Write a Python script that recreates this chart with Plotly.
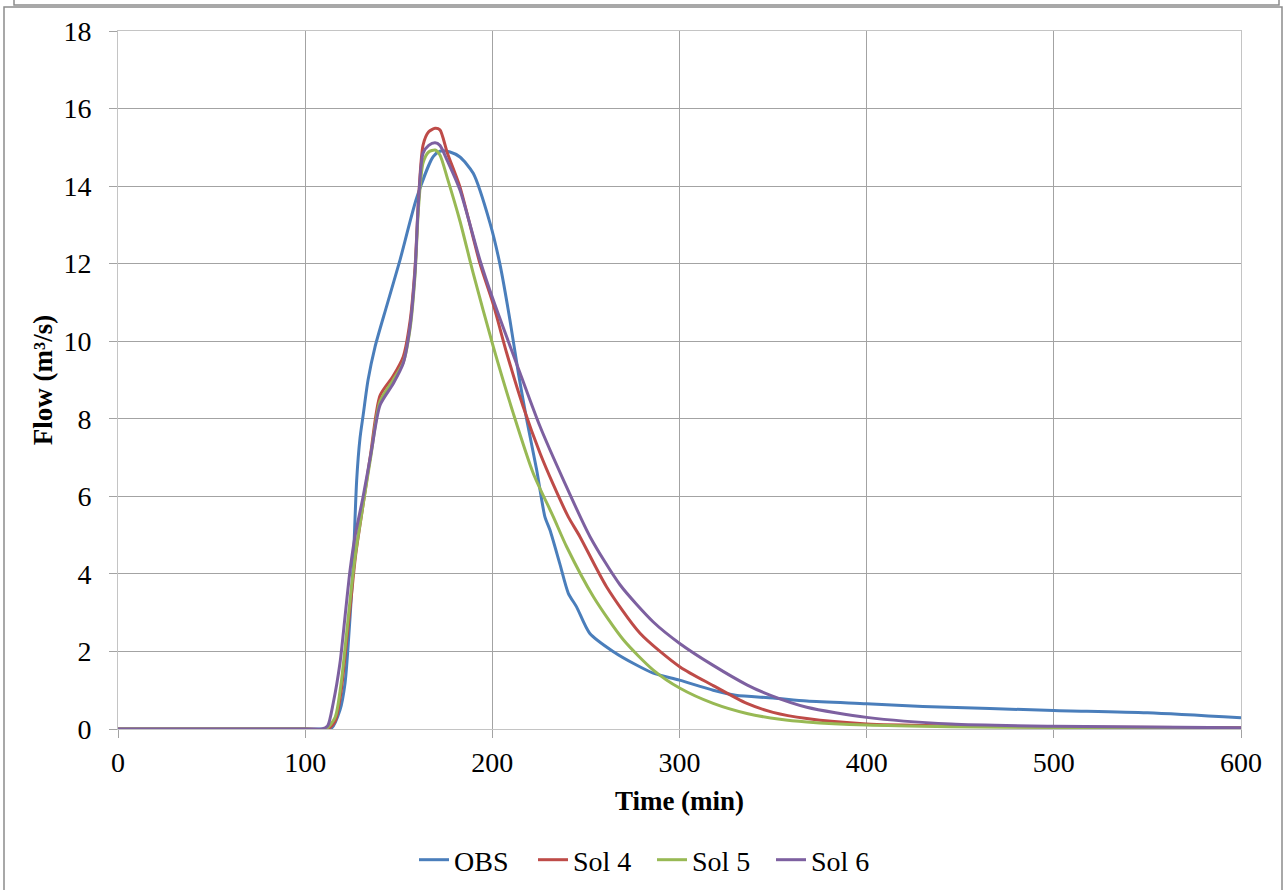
import plotly.graph_objects as go

# ---------------- data ----------------
obs_t = [0, 100, 110, 114, 118.6, 121.3, 124, 125.7, 127.5, 129.3, 131, 133.6, 137.3, 143.5,
         150.7, 159.6, 168.4, 172, 177.4, 182.7, 189.8, 198.8, 204, 209.4, 213.9, 218.4, 223.7,
         228.1, 230.8, 236, 240.6, 245, 252, 264.5, 277, 286, 300, 318, 330, 350, 368, 400,
         430, 500, 550, 600]
obs_v = [0, 0, 0, 0.02, 0.49, 1.18, 2.9, 4.28, 6.4, 7.5, 8.1, 9.0, 9.85, 10.9,
         12.1, 13.7, 14.76, 14.9, 14.88, 14.75, 14.33, 13.04, 12.0, 10.55, 9.18, 7.97, 6.68,
         5.47, 5.13, 4.27, 3.5, 3.15, 2.47, 2.0, 1.65, 1.44, 1.26, 1.0, 0.87, 0.8, 0.72, 0.65,
         0.58, 0.48, 0.42, 0.29]

sol4_t = [0, 100, 112, 116, 119, 122, 124.5, 127, 131, 135, 140, 147, 152.4, 156, 158.7, 160.5,
          163, 166, 169.4, 172, 176, 182.7, 193.4, 200.5, 207.7, 216.5, 225.5, 232.6, 240.6,
          246.8, 261, 278.9, 300.3, 318, 336, 350, 368, 400, 445, 500, 600]
sol4_v = [0, 0, 0, 0.2, 0.9, 2.2, 3.35, 4.5, 5.8, 7.1, 8.6, 9.1, 9.6, 10.5, 11.9, 13.6,
          15.06, 15.4, 15.49, 15.45, 14.85, 13.98, 12.0, 10.95, 9.69, 8.31, 7.11, 6.3, 5.47,
          4.96, 3.67, 2.47, 1.6, 1.12, 0.66, 0.43, 0.27, 0.13, 0.08, 0.05, 0.03]

sol5_t = [0, 100, 111, 116, 119, 122, 124.5, 127, 131, 135, 140, 147, 152.4, 156, 158.7, 160.5,
          163, 166, 169.4, 172, 176, 182.7, 189.8, 200.5, 211.2, 221.9, 232.6, 239.7, 254, 270,
          286, 300.3, 318, 336, 353.7, 368, 400, 445, 500, 600]
sol5_v = [0, 0, 0, 0.3, 1.1, 2.4, 3.55, 4.55, 5.8, 7.0, 8.45, 9.0, 9.45, 10.3, 11.7, 13.4,
          14.6, 14.88, 14.93, 14.8, 14.2, 13.1, 11.75, 9.86, 8.14, 6.59, 5.47, 4.7, 3.41, 2.3,
          1.52, 1.05, 0.66, 0.4, 0.25, 0.18, 0.1, 0.06, 0.04, 0.02]

sol6_t = [0, 100, 109, 112, 115, 118.6, 121.3, 124, 126.6, 131, 135.5, 140, 147, 152.4, 156,
          158.7, 160.5, 163, 166, 169.4, 172, 176, 182.7, 193.4, 200.5, 214.8, 225.5, 238,
          252.2, 268.2, 286, 300.3, 318, 336, 349, 368, 400, 445, 500, 600]
sol6_v = [0, 0, 0, 0.08, 0.67, 1.7, 2.9, 4.1, 4.96, 6.0, 7.2, 8.35, 8.9, 9.43, 10.37,
          11.8, 13.55, 14.85, 15.05, 15.12, 15.05, 14.65, 13.9, 12.09, 11.06, 9.18, 7.8, 6.42,
          4.96, 3.72, 2.76, 2.2, 1.64, 1.14, 0.86, 0.56, 0.3, 0.13, 0.07, 0.03]

series_names = ["OBS", "Sol 4", "Sol 5", "Sol 6"]
series_colors = ["#4A7EBB", "#BE4B48", "#98B954", "#7D60A0"]

x_ticks = [0, 100, 200, 300, 400, 500, 600]
y_ticks = [0, 2, 4, 6, 8, 10, 12, 14, 16, 18]

# ---------------- figure ----------------
W, H = 1286, 890
L, R, T, B = 118, 45, 31, 161
PW, PH = W - L - R, H - T - B

def px(x):
    return (x - L) / PW

def py(y):
    return (H - B - y) / PH

FONT = "Liberation Serif, Times New Roman, serif"

fig = go.Figure()
for (t, v), name, col in zip([(obs_t, obs_v), (sol4_t, sol4_v), (sol5_t, sol5_v), (sol6_t, sol6_v)],
                             series_names, series_colors):
    fig.add_trace(go.Scatter(x=t, y=v, mode="lines", name=name,
                             line=dict(color=col, width=3, shape="spline", smoothing=0.7)))

axis_common = dict(
    showgrid=True, gridcolor="#a3a3a3", gridwidth=1,
    showline=True, linecolor="#c4c4c4", linewidth=1, mirror=True,
    ticks="outside", ticklen=8, tickcolor="#a3a3a3",
    tickfont=dict(family=FONT, size=28, color="#000"),
    zeroline=False, automargin=False,
)

fig.update_layout(
    width=W, height=H,
    margin=dict(l=L, r=R, t=T, b=B, autoexpand=False),
    paper_bgcolor="white", plot_bgcolor="white",
    font=dict(family=FONT, color="#000"),
    xaxis=dict(range=[0, 600], tickvals=x_ticks, ticklabelstandoff=0,
               title=dict(text="<b>Time (min)</b>", font=dict(family=FONT, size=27), standoff=14),
               **axis_common),
    yaxis=dict(range=[0, 18], tickvals=y_ticks, ticklabelstandoff=12,
               title=dict(text="<b>Flow (m³/s)</b>", font=dict(family=FONT, size=27), standoff=2),
               **axis_common),
    legend=dict(orientation="h", x=px(652), xanchor="center", y=py(860), yanchor="middle",
                font=dict(family=FONT, size=28), itemwidth=30, entrywidth=74,
                bgcolor="rgba(0,0,0,0)"),
    showlegend=True,
)

# outer frames (chart border and bottom of the previous panel)
frame = dict(type="rect", xref="paper", yref="paper", line=dict(color="#8c8c8c", width=1.5),
             fillcolor="rgba(0,0,0,0)", layer="below")
fig.add_shape(x0=px(4), x1=px(1282), y0=py(7), y1=py(900), **frame)
fig.add_shape(x0=px(14), x1=px(1279), y0=py(-10), y1=py(5), **frame)

fig.write_html("out.html")
